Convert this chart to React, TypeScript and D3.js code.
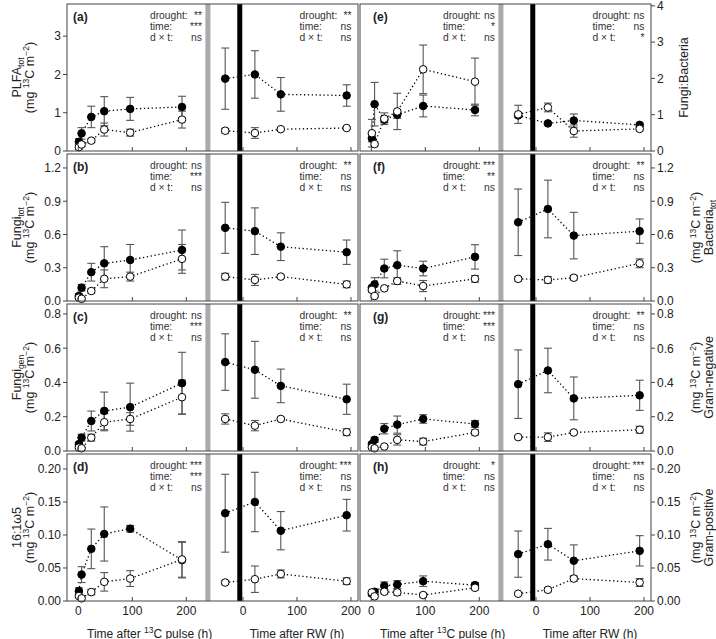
import React from "react";
import * as d3 from "d3";

// ---- sampling times ----
const pulseTimes = [1, 6, 24, 48, 96, 192]; // h after 13C pulse
const rwTimes = [-33, 22, 70, 192]; // h after rewetting
const rwOffset = 305; // position of RW 0 on the shared axis
const grayBarAt = 240;
const blackBarAt = 299;
const xTickPulse = [0, 100, 200];
const xTickRW = [0, 100, 200];

// ---- (a) PLFA tot ----
const plfaDrought = [0.24, 0.46, 0.89, 1.04, 1.1, 1.15, 1.89, 2.0, 1.48, 1.45];
const plfaDroughtSE = [0.08, 0.15, 0.28, 0.38, 0.3, 0.28, 0.8, 0.62, 0.44, 0.28];
const plfaControl = [0.1, 0.17, 0.27, 0.56, 0.48, 0.82, 0.53, 0.47, 0.57, 0.6];
const plfaControlSE = [0.05, 0.05, 0.05, 0.17, 0.09, 0.22, 0.06, 0.14, 0.03, 0.04];
// ---- (b) Fungi tot ----
const fungiTotDrought = [0.045, 0.12, 0.26, 0.34, 0.37, 0.46, 0.66, 0.63, 0.49, 0.44];
const fungiTotDroughtSE = [0.02, 0.03, 0.08, 0.15, 0.14, 0.18, 0.23, 0.21, 0.125, 0.11];
const fungiTotControl = [0.03, 0.02, 0.09, 0.2, 0.22, 0.38, 0.22, 0.19, 0.22, 0.15];
const fungiTotControlSE = [0.01, 0.01, 0.02, 0.08, 0.04, 0.13, 0.03, 0.05, 0.015, 0.03];
// ---- (c) Fungi gen ----
const fungiGenDrought = [0.04, 0.078, 0.175, 0.234, 0.256, 0.396, 0.519, 0.474, 0.38, 0.302];
const fungiGenDroughtSE = [0.01, 0.02, 0.058, 0.11, 0.14, 0.18, 0.165, 0.166, 0.098, 0.088];
const fungiGenControl = [0.02, 0.016, 0.078, 0.168, 0.187, 0.314, 0.187, 0.148, 0.187, 0.11];
const fungiGenControlSE = [0.005, 0.005, 0.02, 0.05, 0.037, 0.1, 0.03, 0.03, 0.01, 0.02];
// ---- (d) 16:1w5 ----
const amfDrought = [0.015, 0.04, 0.079, 0.1015, 0.1095, 0.062, 0.133, 0.15, 0.1065, 0.13];
const amfDroughtSE = [0.005, 0.012, 0.03, 0.041, 0.005, 0.027, 0.059, 0.045, 0.029, 0.024];
const amfControl = [0.0075, 0.004, 0.0135, 0.029, 0.034, 0.063, 0.028, 0.033, 0.041, 0.03];
const amfControlSE = [0.002, 0.002, 0.004, 0.014, 0.012, 0.027, 0.003, 0.02, 0.006, 0.005];
// ---- (e) Fungi:Bacteria ----
const fbDrought = [0.35, 1.29, 0.86, 1.0, 1.24, 1.13, 0.98, 0.76, 0.84, 0.72];
const fbDroughtSE = [0.1, 0.6, 0.08, 0.1, 0.3, 0.16, 0.05, 0.04, 0.18, 0.05];
const fbControl = [0.49, 0.19, 0.89, 1.09, 2.25, 1.91, 1.01, 1.2, 0.55, 0.61];
const fbControlSE = [0.38, 0.05, 0.16, 0.5, 0.67, 0.65, 0.25, 0.12, 0.17, 0.05];
// ---- (f) Bacteria tot ----
const bactDrought = [0.12, 0.15, 0.293, 0.323, 0.293, 0.398, 0.71, 0.83, 0.59, 0.63];
const bactDroughtSE = [0.02, 0.06, 0.084, 0.13, 0.066, 0.11, 0.3, 0.26, 0.21, 0.11];
const bactControl = [0.1, 0.045, 0.114, 0.18, 0.135, 0.2, 0.2, 0.19, 0.21, 0.34];
const bactControlSE = [0.02, 0.01, 0.01, 0.03, 0.05, 0.03, 0.02, 0.03, 0.02, 0.04];
// ---- (g) Gram-negative ----
const gnegDrought = [0.04, 0.065, 0.13, 0.154, 0.187, 0.158, 0.39, 0.47, 0.307, 0.325];
const gnegDroughtSE = [0.01, 0.015, 0.03, 0.05, 0.025, 0.02, 0.2, 0.13, 0.125, 0.088];
const gnegControl = [0.022, 0.016, 0.026, 0.065, 0.055, 0.108, 0.081, 0.081, 0.108, 0.124];
const gnegControlSE = [0.005, 0.005, 0.005, 0.03, 0.02, 0.015, 0.008, 0.025, 0.008, 0.02];
// ---- (h) Gram-positive ----
const gposDrought = [0.011, 0.014, 0.023, 0.025, 0.03, 0.024, 0.071, 0.086, 0.061, 0.076];
const gposDroughtSE = [0.003, 0.004, 0.006, 0.006, 0.008, 0.004, 0.035, 0.024, 0.024, 0.023];
const gposControl = [0.013, 0.007, 0.014, 0.013, 0.009, 0.02, 0.011, 0.017, 0.034, 0.028];
const gposControlSE = [0.003, 0.002, 0.003, 0.004, 0.003, 0.003, 0.002, 0.003, 0.004, 0.006];

// ---- significance (pulse segment, RW segment): drought, time, d x t ----
const sigA = [["**", "***", "ns"], ["**", "ns", "ns"]];
const sigB = [["ns", "***", "ns"], ["**", "ns", "ns"]];
const sigC = [["ns", "***", "ns"], ["**", "ns", "ns"]];
const sigD = [["***", "***", "ns"], ["***", "ns", "ns"]];
const sigE = [["ns", "*", "ns"], ["ns", "ns", "*"]];
const sigF = [["***", "**", "ns"], ["**", "ns", "ns"]];
const sigG = [["***", "***", "ns"], ["**", "ns", "ns"]];
const sigH = [["*", "ns", "ns"], ["***", "ns", "ns"]];
const sigNames = ["drought:", "time:", "d \u00d7 t:"];

// ---- y axes ----
const ticksA = [0, 1, 2, 3];
const ticksB = [0, 0.3, 0.6, 0.9, 1.2];
const ticksC = [0, 0.2, 0.4, 0.6, 0.8];
const ticksD = [0, 0.05, 0.1, 0.15, 0.2];
const ticksE = [0, 1, 2, 3, 4];

const FONT = "'Liberation Sans', Arial, Helvetica, sans-serif";
const cols = [{ L: 67, W: 291 }, { L: 360, W: 291 }];
const PH = 147;
const rowTop = (r) => 4 + 150 * r;

const mgUnit = (
  <>
    {"(mg "}<tspan fontSize={8.5} dy={-4.5}>13</tspan>
    <tspan dy={4.5}>C m</tspan>
    <tspan fontSize={8.5} dy={-4.5}>{"\u22122"}</tspan>
    <tspan dy={4.5}>)</tspan>
  </>
);

const panels = [
  { id: "a", col: 0, row: 0, dom: [0, 3.84], ticks: ticksA, fmt: d3.format("d"), dm: plfaDrought, ds: plfaDroughtSE, cm: plfaControl, cs: plfaControlSE, sig: sigA,
    titles: [<>PLFA<tspan fontSize={8.5} dy={2.5}>tot</tspan></>, mgUnit] },
  { id: "b", col: 0, row: 1, dom: [0, 1.326], ticks: ticksB, fmt: d3.format(".1f"), dm: fungiTotDrought, ds: fungiTotDroughtSE, cm: fungiTotControl, cs: fungiTotControlSE, sig: sigB,
    titles: [<>Fungi<tspan fontSize={8.5} dy={2.5}>tot</tspan></>, mgUnit] },
  { id: "c", col: 0, row: 2, dom: [0, 0.858], ticks: ticksC, fmt: d3.format(".1f"), dm: fungiGenDrought, ds: fungiGenDroughtSE, cm: fungiGenControl, cs: fungiGenControlSE, sig: sigC,
    titles: [<>Fungi<tspan fontSize={8.5} dy={2.5}>gen</tspan></>, mgUnit] },
  { id: "d", col: 0, row: 3, dom: [0, 0.2227], ticks: ticksD, fmt: d3.format(".2f"), dm: amfDrought, ds: amfDroughtSE, cm: amfControl, cs: amfControlSE, sig: sigD,
    titles: [<>{"16:1\u03c95"}</>, mgUnit] },
  { id: "e", col: 1, row: 0, dom: [0, 4.05], ticks: ticksE, fmt: d3.format("d"), dm: fbDrought, ds: fbDroughtSE, cm: fbControl, cs: fbControlSE, sig: sigE,
    titles: [<>Fungi:Bacteria</>] },
  { id: "f", col: 1, row: 1, dom: [0, 1.326], ticks: ticksB, fmt: d3.format(".1f"), dm: bactDrought, ds: bactDroughtSE, cm: bactControl, cs: bactControlSE, sig: sigF,
    titles: [mgUnit, <>Bacteria<tspan fontSize={8.5} dy={2.5}>tot</tspan></>] },
  { id: "g", col: 1, row: 2, dom: [0, 0.858], ticks: ticksC, fmt: d3.format(".1f"), dm: gnegDrought, ds: gnegDroughtSE, cm: gnegControl, cs: gnegControlSE, sig: sigG,
    titles: [mgUnit, <>Gram-negative</>] },
  { id: "h", col: 1, row: 3, dom: [0, 0.2227], ticks: ticksD, fmt: d3.format(".2f"), dm: gposDrought, ds: gposDroughtSE, cm: gposControl, cs: gposControlSE, sig: sigH,
    titles: [mgUnit, <>Gram-positive</>] },
];

const allTimes = [...pulseTimes, ...rwTimes.map((t) => t + rwOffset)];
const nP = pulseTimes.length;

function Panel({ p }) {
  const { L, W } = cols[p.col];
  const T = rowTop(p.row);
  const B = T + PH;
  const x = d3.scaleLinear().domain([-21, 518]).range([L, L + W]);
  const y = d3.scaleLinear().domain(p.dom).range([B, T]);
  const line = d3.line().x((d) => x(d[0])).y((d) => y(d[1]));
  const groups = [
    { m: p.dm, s: p.ds, fill: "#000" },
    { m: p.cm, s: p.cs, fill: "#fff" },
  ];
  const cy = (T + B) / 2;
  const sigRight = [x(grayBarAt) - 6, L + W - 6.5];
  return (
    <g>
      <rect x={x(grayBarAt) - 2.5} y={T} width={5} height={PH} fill="#aaaaaa" />
      <rect x={x(blackBarAt) - 2.5} y={T} width={5} height={PH} fill="#000" />
      {groups.map((g, gi) => {
        const pts = allTimes.map((t, i) => [t, g.m[i]]);
        return (
          <g key={"l" + gi}>
            <path d={line(pts.slice(0, nP))} fill="none" stroke="#000" strokeWidth={1.3} strokeDasharray="1.3 2.6" />
            <path d={line(pts.slice(nP))} fill="none" stroke="#000" strokeWidth={1.3} strokeDasharray="1.3 2.6" />
          </g>
        );
      })}
      {groups.map((g, gi) =>
        allTimes.map((t, i) => {
          const cx = x(t);
          const y1 = y(g.m[i] + g.s[i]);
          const y2 = y(Math.max(0, g.m[i] - g.s[i]));
          return (
            <g key={"e" + gi + "-" + i} stroke="#555" strokeWidth={1.1}>
              <line x1={cx} x2={cx} y1={y1} y2={y2} />
              <line x1={cx - 4} x2={cx + 4} y1={y1} y2={y1} />
              <line x1={cx - 4} x2={cx + 4} y1={y2} y2={y2} />
            </g>
          );
        })
      )}
      {groups.map((g, gi) =>
        allTimes.map((t, i) => (
          <circle key={"p" + gi + "-" + i} cx={x(t)} cy={y(g.m[i])} r={3.8} fill={g.fill} stroke="#000" strokeWidth={1} />
        ))
      )}
      <rect x={L} y={T} width={W} height={PH} fill="none" stroke="#444" strokeWidth={1} />
      {[...xTickPulse, ...xTickRW.map((t) => t + rwOffset)].map((t, i) => (
        <line key={"xt" + i} x1={x(t)} x2={x(t)} y1={B} y2={B - 4} stroke="#444" />
      ))}
      {p.ticks.map((v, i) => {
        const yy = y(v);
        return p.col === 0 ? (
          <g key={"yt" + i}>
            <line x1={L} x2={L - 4} y1={yy} y2={yy} stroke="#444" />
            <text x={61} y={yy + 4.3} textAnchor="end" fontSize={12} fill="#222">{p.fmt(v)}</text>
          </g>
        ) : (
          <g key={"yt" + i}>
            <line x1={L + W} x2={L + W + 4} y1={yy} y2={yy} stroke="#444" />
            <text x={L + W + 6} y={yy + 4.3} textAnchor="start" fontSize={12} fill="#222">{p.fmt(v)}</text>
          </g>
        );
      })}
      <text x={p.col === 0 ? L + 6 : L + 13} y={T + 16.5} fontSize={12} fontWeight="bold" fill="#222">({p.id})</text>
      {p.sig.map((seg, si) =>
        seg.map((v, li) => (
          <g key={"s" + si + "-" + li} fontSize={10.3} fill="#333">
            <text x={sigRight[si] - 52} y={T + 14.5 + li * 11.2}>{sigNames[li]}</text>
            <text x={sigRight[si]} y={T + 14.5 + li * 11.2} textAnchor="end">{v}</text>
          </g>
        ))
      )}
      {p.col === 0 ? (
        <>
          <text transform={`translate(21,${cy}) rotate(-90)`} textAnchor="middle" fontSize={12.5} fill="#222">{p.titles[0]}</text>
          <text transform={`translate(33.5,${cy}) rotate(-90)`} textAnchor="middle" fontSize={12.5} fill="#222">{p.titles[1]}</text>
        </>
      ) : p.titles.length === 1 ? (
        <text transform={`translate(688,${cy}) rotate(-90)`} textAnchor="middle" fontSize={12.5} fill="#222">{p.titles[0]}</text>
      ) : (
        <>
          <text transform={`translate(700,${cy}) rotate(-90)`} textAnchor="middle" fontSize={12.5} fill="#222">{p.titles[0]}</text>
          <text transform={`translate(713,${cy}) rotate(-90)`} textAnchor="middle" fontSize={12.5} fill="#222">{p.titles[1]}</text>
        </>
      )}
    </g>
  );
}

function XAxisLabels({ col }) {
  const { L, W } = cols[col];
  const x = d3.scaleLinear().domain([-21, 518]).range([L, L + W]);
  return (
    <g fontSize={12} fill="#222">
      {xTickPulse.map((t) => (
        <text key={"a" + t} x={x(t)} y={614.5} textAnchor="middle">{t}</text>
      ))}
      {xTickRW.map((t) => (
        <text key={"b" + t} x={x(t + rwOffset)} y={614.5} textAnchor="middle">{t}</text>
      ))}
      <text x={x(132)} y={637.5} textAnchor="middle">
        {"Time after "}<tspan fontSize={8.5} dy={-4.5}>13</tspan>
        <tspan dy={4.5}>C pulse (h)</tspan>
      </text>
      <text x={x(rwOffset + 100)} y={637.5} textAnchor="middle">Time after RW (h)</text>
    </g>
  );
}

export default function App() {
  return (
    <svg width={716} height={639} style={{ position: "absolute", left: 0, top: 0, background: "#fff" }} fontFamily={FONT}>
      <rect width={716} height={639} fill="#fff" />
      {panels.map((p) => (
        <Panel key={p.id} p={p} />
      ))}
      <XAxisLabels col={0} />
      <XAxisLabels col={1} />
    </svg>
  );
}
